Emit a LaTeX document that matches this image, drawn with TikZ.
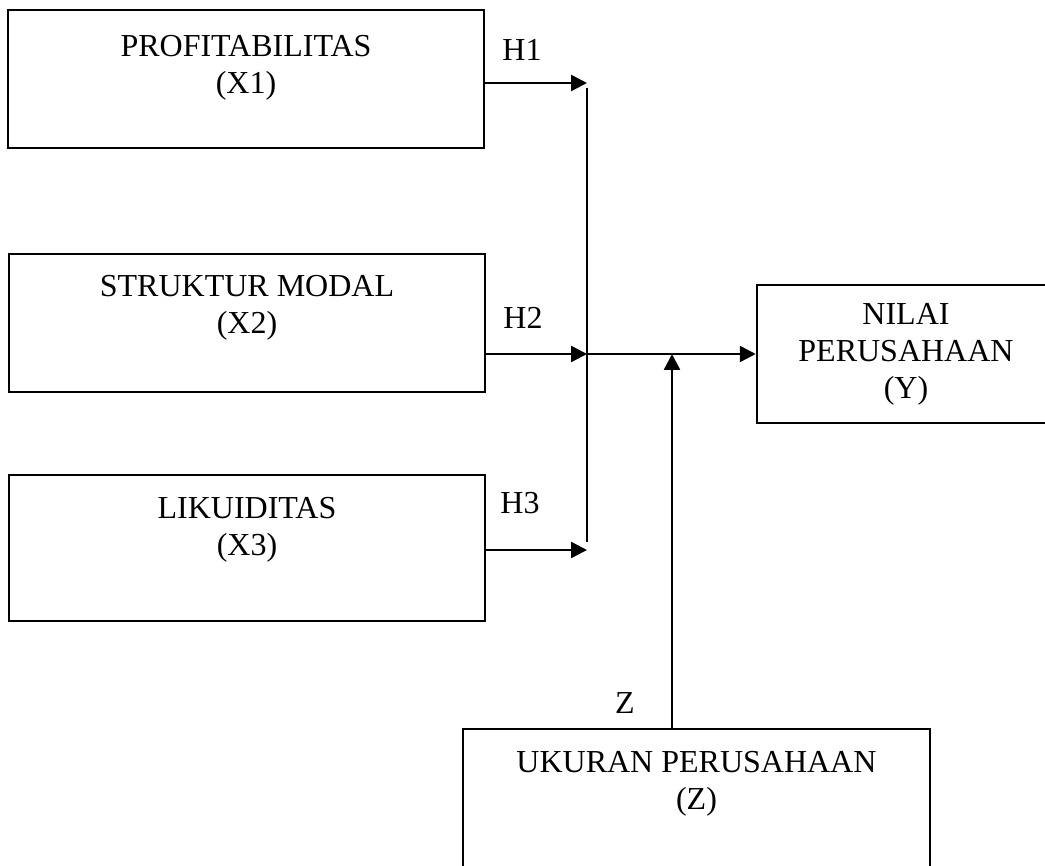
\documentclass[tikz,border=0pt]{standalone}
\usepackage{fontspec}
\setmainfont{Liberation Serif}
\usetikzlibrary{arrows.meta}

\begin{document}
\begin{tikzpicture}[x=1pt, y=-1pt, line width=2.5pt,
        font=\fontsize{32}{37}\selectfont,
        varbox/.style={draw, align=center, inner sep=0pt, minimum width=476pt, minimum height=138pt},
        link/.style={-{Triangle[length=16pt, width=16pt]}}]
    \useasboundingbox (0, 0) rectangle (1045, 866);
    \clip (0, 0) rectangle (1045, 866);
    % variables
    \node[varbox] (x1) at (246, 79) {PROFITABILITAS\\(X1)\\[-8pt]\mbox{}};
    \node[varbox] (x2) at (247, 323) {STRUKTUR MODAL\\(X2)\\\mbox{}};
    \node[varbox, minimum height=146pt] (x3) at (247, 548) {LIKUIDITAS\\(X3)\\[6pt]\mbox{}};
    \node[varbox, minimum width=298pt] (y) at (906, 354) {NILAI\\PERUSAHAAN\\(Y)};
    \node[varbox, minimum width=467pt, minimum height=139pt] (z) at (696.5, 798.5) {UKURAN PERUSAHAAN\\(Z)\\\mbox{}};
    % junctions
    \coordinate (j1) at (587, 83);
    \coordinate (j2) at (587, 354);
    \coordinate (j3) at (587, 550);
    \coordinate (bustop) at (587, 88);
    \coordinate (busbot) at (587, 542);
    \coordinate (jz) at (672, 354);
    % arrows
    \draw[link] (x1.east |- j1) -- (j1);
    \draw[link] (x2.east |- j2) -- (j2);
    \draw[link] (x3.east |- j3) -- (j3);
    \draw (bustop) -- (busbot);
    \draw[link] (j2) -- (y.west);
    \draw[link] (z.north -| jz) -- (jz);
    % labels
    \node (h1) at (522, 50) {H1};
    \node (h2) at (523, 318) {H2};
    \node (h3) at (520, 503) {H3};
    \node (zl) at (625, 703) {Z};
\end{tikzpicture}
\end{document}
